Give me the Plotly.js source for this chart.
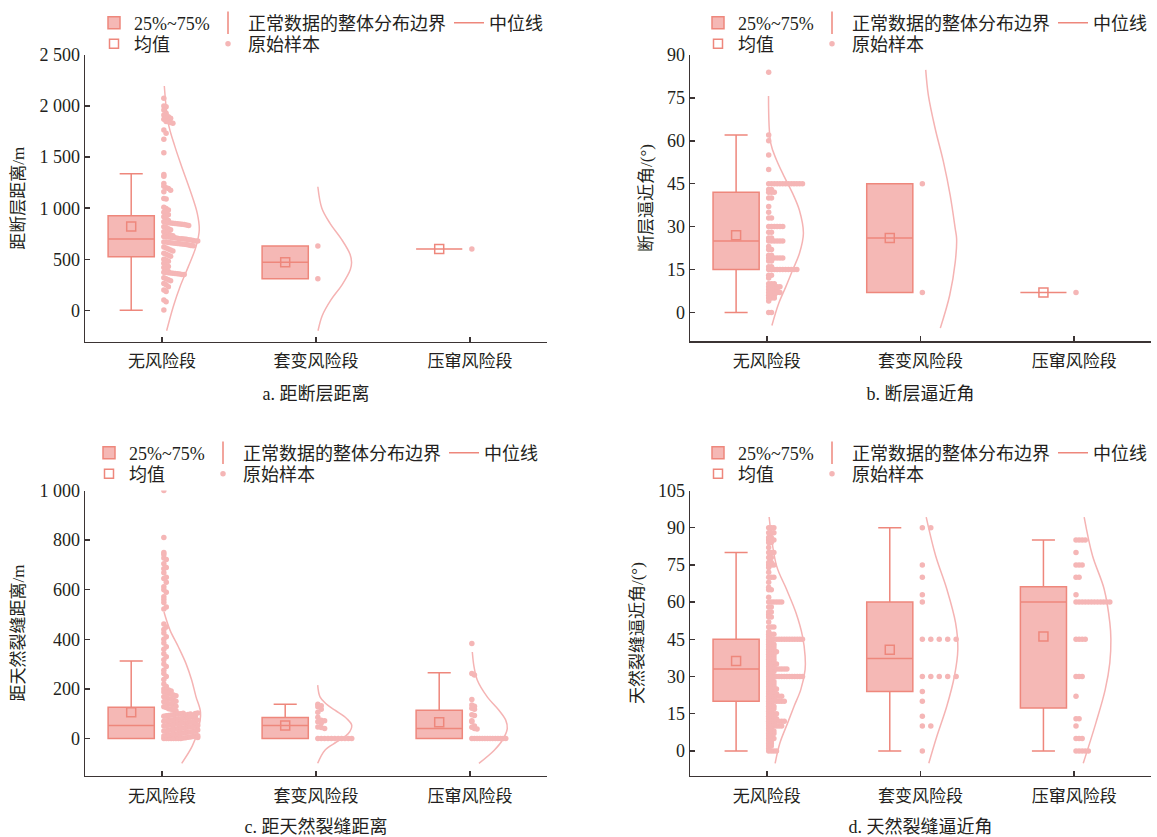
<!DOCTYPE html>
<html><head><meta charset="utf-8">
<script src="https://cdn.plot.ly/plotly-3.0.1.min.js"></script>
<style>html,body{margin:0;padding:0;background:#fff}#chart{width:1157px;height:837px}</style>
</head><body><div id="chart"></div>
<script>
// ---------- categories & legend labels ----------
const categories = ['无风险段', '套变风险段', '压窜风险段'];
const legendBox = '25%~75%';
const legendWhisker = '正常数据的整体分布边界';
const legendMedian = '中位线';
const legendMean = '均值';
const legendSample = '原始样本';

// ---------- panel a: 距断层距离 ----------
const faultDist_none = [2076, 2001, 1994, 1961, 1929, 1912, 1900, 1896, 1880, 1870, 1850, 1847, 1840, 1831, 1766, 1733, 1674, 1543,
  1331, 1314, 1242, 1216, 1200, 1194, 1177, 1161, 1096, 1090, 1010, 998, 982, 960, 950, 935, 917, 900, 880,
  868, 862, 858, 855, 852, 850, 848, 845, 842, 840, 836, 830, 819, 810, 800, 790, 770, 760, 750, 738, 730,
  722, 720, 718, 715, 712, 710, 705, 702, 700, 698, 695, 690, 688, 685, 680, 678,
  670, 668, 665, 662, 660, 658, 655, 652, 650, 648, 645, 640, 636, 632,
  620, 610, 600, 591, 580, 560, 550, 540, 530, 500, 493, 480, 460, 440, 430, 420, 400, 380,
  372, 370, 368, 365, 362, 360, 358, 355, 352, 350, 320, 310, 300, 290, 264, 250, 232, 199, 185, 101, 85, 3];
const faultDist_casing = [630, 310];
const faultDist_frac = [600];
const faultDist_q1 = [525, 310, 600];
const faultDist_median = [698, 470, 600];
const faultDist_q3 = [926, 630, 600];
const faultDist_lower = [0, 310, 600];
const faultDist_upper = [1338, 630, 600];
const faultDist_mean = [822, 470, 600];
const faultDist_curveNone_y = [2196, 1831, 1603, 1407, 1178, 950, 786, 624, 428, 232, 36, -200];
const faultDist_curveNone_d = [0.015, 0.041, 0.084, 0.128, 0.182, 0.229, 0.242, 0.221, 0.171, 0.117, 0.073, 0.030];
const faultDist_curveCasing_y = [1210, 1000, 850, 700, 550, 470, 400, 250, 100, -50, -200];
const faultDist_curveCasing_d = [0.012, 0.038, 0.092, 0.164, 0.221, 0.231, 0.223, 0.169, 0.096, 0.041, 0.013];
const faultDist_ticks = [0, 500, 1000, 1500, 2000, 2500];
const faultDist_tickText = ['0', '500', '1 000', '1 500', '2 000', '2 500'];

// ---------- panel b: 断层逼近角 ----------
const faultAngle_none = [84, 62, 60, 55, 50, 45, 45, 45, 45, 45, 45, 45, 45, 45, 45, 45, 45, 45, 43, 43, 42, 42, 42, 40, 40, 37, 35, 33, 33,
  30, 30, 30, 30, 30, 30, 28, 28, 26, 26, 25, 25, 25, 25, 25, 25, 23, 22, 22, 20, 20, 19, 19, 19, 19, 19, 19, 18, 18, 16, 16,
  15, 15, 15, 15, 15, 15, 15, 15, 15, 15, 15, 13, 13, 12, 10, 10, 10, 9, 9, 9, 9, 9, 8, 8, 8, 8, 7, 7, 7, 7, 7, 6, 6, 6, 5, 5, 5, 4, 0, 0];
const faultAngle_casing = [45, 7];
const faultAngle_frac = [7];
const faultAngle_q1 = [15, 7, 7];
const faultAngle_median = [25, 26, 7];
const faultAngle_q3 = [42, 45, 7];
const faultAngle_lower = [0, 7, 7];
const faultAngle_upper = [62, 45, 7];
const faultAngle_mean = [27, 26, 7];
const faultAngle_curveNone_y = [75.7, 59, 53.3, 47.4, 41.6, 35.7, 27.6, 20.6, 14.8, 9, 3.1, -4.6];
const faultAngle_curveNone_d = [0.011, 0.026, 0.063, 0.114, 0.168, 0.212, 0.238, 0.212, 0.168, 0.124, 0.077, 0.033];
const faultAngle_curveCasing_y = [84.8, 76, 64.4, 52.7, 41, 29.3, 25.8, 17.6, 6, -5.5];
const faultAngle_curveCasing_d = [0.034, 0.051, 0.095, 0.149, 0.193, 0.226, 0.235, 0.226, 0.19, 0.129];
const faultAngle_ticks = [0, 15, 30, 45, 60, 75, 90];

// ---------- panel c: 距天然裂缝距离 ----------
const fracDist_none = [1000, 810,
  750, 742, 728, 722, 705, 690, 684, 668, 650, 645, 630, 612, 600, 590, 572, 560, 548, 530, 522,
  462, 450, 440, 425, 410, 400, 385, 370, 360, 342, 330, 318, 300, 290, 275, 262, 250, 238, 220, 210, 200,
  198, 196, 192, 188, 185, 182, 178, 175, 172, 168, 165, 160, 158, 155, 150, 148, 145, 140, 138, 135, 130, 128, 125, 120, 118, 115, 112,
  0, 0, 0, 0, 0, 0, 0, 0, 2, 3, 5, 6, 8, 9, 4,
  10, 12, 14, 15, 16, 18, 20, 20, 22, 24, 25, 26, 28, 29, 11,
  30, 31, 33, 35, 36, 38, 40, 40, 42, 44, 45, 46, 48, 49, 34,
  50, 51, 53, 55, 56, 58, 60, 60, 62, 64, 65, 66, 68, 69, 52,
  70, 72, 73, 75, 76, 78, 80, 80, 82, 84, 85, 86, 88, 89, 74,
  90, 92, 93, 95, 96, 98, 100, 100, 102, 94, 97, 99, 91, 101, 103];
const fracDist_casing = [138, 132, 128, 118, 106, 86, 74, 72, 68, 62, 46, 44, 40, 0, 0, 0, 0, 0, 0, 0, 0, 0, 0, 0];
const fracDist_frac = [383, 262, 256, 157, 135, 130, 122, 118, 96, 93, 72, 68, 50, 45, 40, 38, 0, 0, 0, 0, 0, 0, 0, 0, 0, 0, 0, 0, 0, 0];
const fracDist_q1 = [0, 0, 0];
const fracDist_median = [52, 52, 40];
const fracDist_q3 = [126, 85, 114];
const fracDist_lower = [0, 0, 0];
const fracDist_upper = [313, 138, 265];
const fracDist_mean = [106, 52, 66];
const fracDist_curveNone_y = [510, 437, 370, 302, 235, 168, 106, 40, -30, -100];
const fracDist_curveNone_d = [0.013, 0.052, 0.106, 0.156, 0.193, 0.221, 0.25, 0.237, 0.197, 0.128];
const fracDist_curveCasing_y = [215, 168, 140, 114, 80, 53, 20, -14, -47, -100];
const fracDist_curveCasing_d = [0.011, 0.026, 0.065, 0.123, 0.2, 0.232, 0.21, 0.134, 0.058, 0.011];
const fracDist_curveFrac_y = [349, 290, 236, 168, 114, 74, 40, -7, -48, -100];
const fracDist_curveFrac_d = [0.015, 0.026, 0.047, 0.112, 0.188, 0.232, 0.242, 0.21, 0.156, 0.058];
const fracDist_ticks = [0, 200, 400, 600, 800, 1000];
const fracDist_tickText = ['0', '200', '400', '600', '800', '1 000'];

// ---------- panel d: 天然裂缝逼近角 ----------
const fracAngle_none = [0, 0, 0, 0, 1, 2, 2, 3, 3, 4, 4, 5, 5, 5, 6, 6, 7, 7, 7, 8, 8, 8, 9, 9,
  10, 10, 10, 10, 10, 10, 11, 11, 11, 12, 12, 12, 12, 12, 12, 12, 13, 13, 13, 13, 14, 14, 14, 15, 15, 15, 15,
  16, 16, 17, 17, 17, 18, 18, 18, 19, 19, 20, 20, 20, 20, 20, 20, 20, 21, 21, 21, 22, 22, 22, 22, 22, 22,
  23, 23, 23, 23, 24, 24, 24, 25, 25, 25, 25, 26, 26, 26, 27, 27, 27, 28, 28, 28, 29, 29,
  30, 30, 30, 30, 30, 30, 30, 30, 30, 30, 30, 30, 30, 30, 31, 31, 32, 32, 32, 33, 33, 33, 33, 33, 33, 33, 33,
  34, 34, 34, 35, 35, 35, 35, 36, 36, 36, 37, 37, 37, 38, 38, 38, 39, 39, 39, 40, 40, 40, 40, 41, 41, 41,
  42, 42, 42, 43, 43, 43, 44, 44, 45, 45, 45, 45, 45, 45, 45, 45, 45, 45, 45, 45, 45, 45, 46, 47, 47, 47, 48,
  50, 50, 50, 52, 54, 54, 55, 56, 56, 58, 58, 60, 60, 60, 60, 60, 60, 62, 65, 65, 66, 68, 70, 70, 70, 72, 74,
  75, 75, 75, 76, 76, 78, 78, 80, 80, 80, 82, 84, 84, 85, 85, 85, 86, 86, 88, 88, 88, 90, 90, 90];
const fracAngle_casing = [90, 90, 75, 70, 63, 60, 45, 45, 45, 45, 45, 30, 30, 30, 30, 30, 24, 20, 14, 10, 10, 0];
const fracAngle_frac = [85, 85, 85, 85, 80, 75, 75, 75, 70, 70, 63, 60, 60, 60, 60, 60, 60, 60, 60, 60, 60, 60, 60,
  45, 45, 45, 45, 30, 30, 30, 22, 13, 13, 10, 5, 5, 5, 0, 0, 0, 0, 0];
const fracAngle_q1 = [20, 24, 17.3];
const fracAngle_median = [33, 37.3, 60];
const fracAngle_q3 = [45, 60, 66.2];
const fracAngle_lower = [0, 0, 0];
const fracAngle_upper = [80, 90, 85];
const fracAngle_mean = [36.3, 40.8, 46.1];
const fracAngle_curveNone_y = [94.3, 74.7, 65.2, 55.8, 46.3, 38.2, 32.8, 24.7, 18.1, 11.2, 3.2, -5];
const fracAngle_curveNone_d = [0.015, 0.063, 0.128, 0.189, 0.232, 0.249, 0.249, 0.221, 0.178, 0.135, 0.085, 0.054];
const fracAngle_curveCasing_y = [94.3, 78.8, 65.3, 51.7, 41, 30.2, 18, 5.8, -5];
const fracAngle_curveCasing_d = [0.037, 0.098, 0.171, 0.228, 0.243, 0.221, 0.171, 0.106, 0.054];
const fracAngle_curveFrac_y = [94.3, 78.8, 65.3, 51.7, 45, 35.5, 24.7, 11.2, -5];
const fracAngle_curveFrac_d = [0.065, 0.119, 0.195, 0.232, 0.239, 0.232, 0.202, 0.141, 0.059];
const fracAngle_ticks = [0, 15, 30, 45, 60, 75, 90, 105];

// ---------- styles ----------
const FONT = 'Liberation Serif, "Noto Sans CJK SC", serif';
const TXT = '#231f20';
const AXC = '#3b3434';
const BOX_LINE = '#ee877c';
const BOX_FILL = '#f5b8b5';
const DOT = '#f5b6b6';
const CURVE = '#f5b3b3';
const BOX_OFFSET = -0.2;
const BOX_W = 0.3;
const W = 1157, H = 837;

const panels = [
  { title: 'a. 距断层距离', ytitle: '距断层距离/m', groups: [faultDist_none, faultDist_casing, faultDist_frac],
    q1: faultDist_q1, median: faultDist_median, q3: faultDist_q3, lower: faultDist_lower, upper: faultDist_upper, mean: faultDist_mean,
    curves: [[faultDist_curveNone_y, faultDist_curveNone_d, 0], [faultDist_curveCasing_y, faultDist_curveCasing_d, 1]],
    range: [-305, 2500], ticks: faultDist_ticks, tickText: faultDist_tickText, bin: 50,
    px: [85, 547], py: [55, 341.5], leg: [94, 4.5, 25.5] },
  { title: 'b. 断层逼近角', ytitle: '断层逼近角/(°)', groups: [faultAngle_none, faultAngle_casing, faultAngle_frac],
    q1: faultAngle_q1, median: faultAngle_median, q3: faultAngle_q3, lower: faultAngle_lower, upper: faultAngle_upper, mean: faultAngle_mean,
    curves: [[faultAngle_curveNone_y, faultAngle_curveNone_d, 0], [faultAngle_curveCasing_y, faultAngle_curveCasing_d, 1]],
    range: [-10, 90], ticks: faultAngle_ticks, tickText: faultAngle_ticks.map(String), bin: 1,
    px: [690, 1151], py: [55, 341], leg: [698, 4.5, 25.5] },
  { title: 'c. 距天然裂缝距离', ytitle: '距天然裂缝距离/m', groups: [fracDist_none, fracDist_casing, fracDist_frac],
    q1: fracDist_q1, median: fracDist_median, q3: fracDist_q3, lower: fracDist_lower, upper: fracDist_upper, mean: fracDist_mean,
    curves: [[fracDist_curveNone_y, fracDist_curveNone_d, 0], [fracDist_curveCasing_y, fracDist_curveCasing_d, 1], [fracDist_curveFrac_y, fracDist_curveFrac_d, 2]],
    range: [-150, 1000], ticks: fracDist_ticks, tickText: fracDist_tickText, bin: 20,
    px: [85, 547], py: [490.5, 775.7], leg: [89, 434.5, 455.5] },
  { title: 'd. 天然裂缝逼近角', ytitle: '天然裂缝逼近角/(°)', groups: [fracAngle_none, fracAngle_casing, fracAngle_frac],
    q1: fracAngle_q1, median: fracAngle_median, q3: fracAngle_q3, lower: fracAngle_lower, upper: fracAngle_upper, mean: fracAngle_mean,
    curves: [[fracAngle_curveNone_y, fracAngle_curveNone_d, 0], [fracAngle_curveCasing_y, fracAngle_curveCasing_d, 1], [fracAngle_curveFrac_y, fracAngle_curveFrac_d, 2]],
    range: [-10, 105], ticks: fracAngle_ticks, tickText: fracAngle_ticks.map(String), bin: 1,
    px: [690, 1151], py: [490.5, 775.7], leg: [698, 434.5, 455.5] }
];

// bin-aligned dot layout: points of the same value bin are laid side by side to the right of the category tick
function dotX(vals, gpos, bin, start, width) {
  const counts = {};
  vals.forEach(v => { const b = Math.round(v / bin); counts[b] = (counts[b] || 0) + 1; });
  const maxN = Math.max.apply(null, Object.values(counts));
  const step = maxN > 1 ? width / (maxN - 1) : 0;
  const seen = {};
  return vals.map(v => { const b = Math.round(v / bin); const k = seen[b] || 0; seen[b] = k + 1; return gpos + start + k * step; });
}

const data = [];
const layout = {
  width: W, height: H, margin: { l: 0, r: 0, t: 0, b: 0 },
  paper_bgcolor: '#fff', plot_bgcolor: 'rgba(0,0,0,0)',
  font: { family: FONT, color: TXT, size: 18 },
  showlegend: true
};

panels.forEach((p, i) => {
  const sfx = i === 0 ? '' : String(i + 1);
  const xa = 'x' + sfx, ya = 'y' + sfx;
  const leg1 = i === 0 ? 'legend' : 'legend' + (2 * i + 1);
  const leg2 = 'legend' + (2 * i + 2);
  const pos = categories.map((c, k) => k + BOX_OFFSET);

  data.push({
    type: 'box', orientation: 'v', x: pos, q1: p.q1, median: p.median, q3: p.q3,
    lowerfence: p.lower, upperfence: p.upper, width: BOX_W, whiskerwidth: 0.5,
    fillcolor: BOX_FILL, line: { color: BOX_LINE, width: 1.5 }, boxpoints: false,
    name: legendBox, legend: leg1, legendrank: 1, legendwidth: 69, showlegend: true,
    hoverinfo: 'skip', xaxis: xa, yaxis: ya
  });
  data.push({
    type: 'scatter', mode: 'markers', x: [null], y: [null], name: legendWhisker,
    marker: { symbol: 'line-ns-open', size: 16, color: BOX_LINE, line: { color: BOX_LINE, width: 1.5 } },
    legend: leg1, legendrank: 2, legendwidth: 196, xaxis: xa, yaxis: ya, hoverinfo: 'skip'
  });
  data.push({
    type: 'scatter', mode: 'lines', x: [null], y: [null], name: legendMedian,
    line: { color: BOX_LINE, width: 1.5 }, legend: leg1, legendrank: 3, xaxis: xa, yaxis: ya, hoverinfo: 'skip'
  });
  p.curves.forEach(c => {
    data.push({
      type: 'scatter', mode: 'lines', x: c[1].map(d => c[2] + d), y: c[0],
      line: { color: CURVE, width: 1.5, shape: 'spline', smoothing: 1 },
      showlegend: false, xaxis: xa, yaxis: ya, hoverinfo: 'skip'
    });
  });
  let px = [], py = [];
  p.groups.forEach((g, k) => { px = px.concat(dotX(g, k, p.bin, 0.012, 0.22)); py = py.concat(g); });
  data.push({
    type: 'scatter', mode: 'markers', x: px, y: py, name: legendSample,
    marker: { color: DOT, size: 5.5, line: { width: 0 } },
    legend: leg2, legendrank: 2, xaxis: xa, yaxis: ya, hoverinfo: 'skip'
  });
  data.push({
    type: 'scatter', mode: 'markers', x: pos, y: p.mean, name: legendMean,
    marker: { symbol: 'square-open', size: 9, color: BOX_LINE, line: { color: BOX_LINE, width: 1.5 } },
    legend: leg2, legendrank: 1, legendwidth: 69, xaxis: xa, yaxis: ya, hoverinfo: 'skip'
  });

  const axCommon = {
    showline: true, linecolor: AXC, linewidth: 1.5, ticks: 'inside', ticklen: 5, tickwidth: 1.5, tickcolor: AXC,
    showgrid: false, zeroline: false, fixedrange: true
  };
  layout['xaxis' + sfx] = Object.assign({}, axCommon, {
    domain: [p.px[0] / W, p.px[1] / W], range: [-0.5, 2.5], tickmode: 'array',
    tickvals: [0, 1, 2, 2.5], ticktext: categories.concat(['']), ticklabelstandoff: 4,
    tickfont: { size: 17, family: FONT, color: TXT }, anchor: ya,
    title: { text: p.title, font: { size: 18, family: FONT, color: TXT }, standoff: 17 }
  });
  layout['yaxis' + sfx] = Object.assign({}, axCommon, {
    domain: [1 - p.py[1] / H, 1 - p.py[0] / H], range: p.range, tickmode: 'array', tickvals: p.ticks, ticktext: p.tickText,
    tickfont: { size: 18, family: FONT, color: TXT }, anchor: xa,
    title: { text: p.ytitle, font: { size: 17, family: FONT, color: TXT }, standoff: 10 }
  });
  const legBase = { orientation: 'h', xanchor: 'left', yanchor: 'top', bgcolor: 'rgba(0,0,0,0)', borderwidth: 0,
    font: { size: 18, family: FONT, color: TXT }, itemclick: false, itemdoubleclick: false, traceorder: 'normal' };
  layout[leg1] = Object.assign({}, legBase, { x: p.leg[0] / W, y: 1 - p.leg[1] / H });
  layout[leg2] = Object.assign({}, legBase, { x: p.leg[0] / W, y: 1 - p.leg[2] / H });
});

Plotly.newPlot('chart', data, layout, { staticPlot: true, displayModeBar: false });
</script>
</body></html>
